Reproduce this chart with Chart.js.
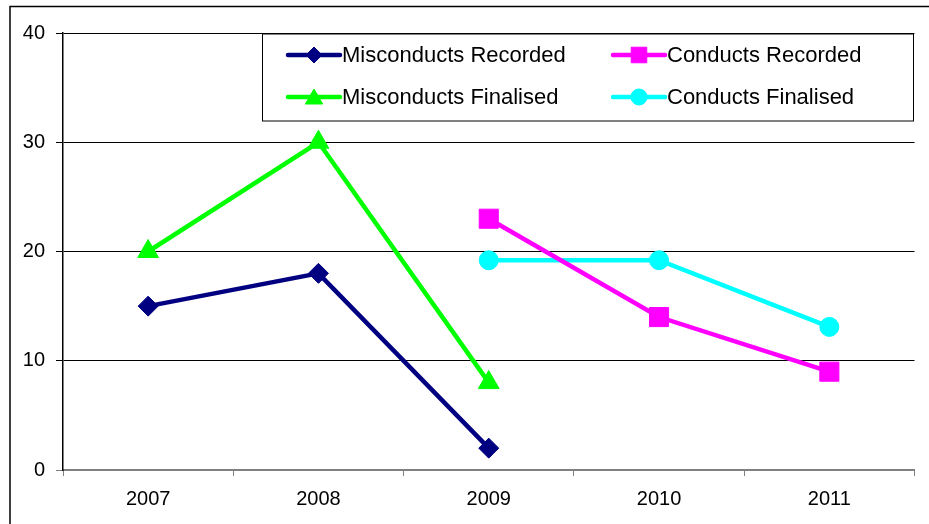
<!DOCTYPE html>
<html>
<head>
<meta charset="utf-8">
<style>
  html, body { margin: 0; padding: 0; background: #fff; }
  #wrap { position: relative; width: 929px; height: 524px; }
</style>
<script src="https://cdn.jsdelivr.net/npm/chart.js@4.4.0/dist/chart.umd.min.js"></script>
</head>
<body>
<div id="wrap"><canvas id="c" width="929" height="524"></canvas></div>
<script>
const categories = ['2007', '2008', '2009', '2010', '2011'];
const misconductsRecorded = [15, 18, 2, null, null];
const misconductsFinalised = [20, 30, 8, null, null];
const conductsRecorded = [null, null, 23, 14, 9];
const conductsFinalised = [null, null, 19.2, 19.2, 13.1];
const yTicks = [0, 10, 20, 30, 40];

const FONT = '"Liberation Sans", Arial, sans-serif';
const legendRadius = { rectRot: 8, triangle: 10, rect: 11, circle: 8 };

const frameAndLegend = {
  id: 'frameAndLegend',
  afterDraw(chart) {
    const ctx = chart.ctx;
    ctx.save();
    // outer chart frame (cropped)
    ctx.strokeStyle = '#000';
    ctx.lineWidth = 1.5;
    ctx.beginPath();
    ctx.moveTo(10, 524);
    ctx.lineTo(10, 6.5);
    ctx.lineTo(929, 6.5);
    ctx.stroke();

    // legend box
    const bx = 262.5, by = 34, bw = 651, bh = 87;
    ctx.fillStyle = '#fff';
    ctx.fillRect(bx, by, bw, bh);
    ctx.lineWidth = 1;
    ctx.strokeStyle = '#000';
    ctx.strokeRect(bx, by, bw, bh);

    const items = [
      { ds: 0, x: 288, y: 55 },
      { ds: 2, x: 613, y: 55 },
      { ds: 1, x: 288, y: 97 },
      { ds: 3, x: 613, y: 97 }
    ];
    items.forEach(it => {
      const ds = chart.data.datasets[it.ds];
      ctx.strokeStyle = ds.borderColor;
      ctx.lineWidth = 4.5;
      ctx.lineCap = 'round';
      ctx.beginPath();
      ctx.moveTo(it.x, it.y);
      ctx.lineTo(it.x + 52, it.y);
      ctx.stroke();
      const r = legendRadius[ds.pointStyle];
      const cy = ds.pointStyle === 'triangle' ? it.y + 2 : it.y;
      ctx.lineWidth = 1;
      ctx.lineCap = 'butt';
      ctx.fillStyle = ds.backgroundColor;
      ctx.strokeStyle = ds.borderColor;
      Chart.helpers.drawPoint(ctx, {
        pointStyle: ds.pointStyle,
        radius: r,
        rotation: 0,
        borderWidth: 1
      }, it.x + 26, cy);
      ctx.fillStyle = '#000';
      ctx.font = '22px ' + FONT;
      ctx.textBaseline = 'middle';
      ctx.textAlign = 'left';
      ctx.fillText(ds.label, it.x + 54, it.y + 1);
    });
    ctx.restore();
  }
};

function mkDs(label, data, color, style, radius) {
  return {
    label, data,
    borderColor: color,
    backgroundColor: color,
    pointBackgroundColor: color,
    pointBorderColor: color,
    borderWidth: 4.5,
    pointStyle: style,
    pointRadius: radius,
    pointHoverRadius: radius,
    pointBorderWidth: 1,
    spanGaps: false,
    tension: 0
  };
}

new Chart(document.getElementById('c'), {
  type: 'line',
  data: {
    labels: categories,
    datasets: [
      mkDs('Misconducts Recorded', misconductsRecorded, '#000080', 'rectRot', 10),
      mkDs('Misconducts Finalised', misconductsFinalised, '#00FF00', 'triangle', 12),
      mkDs('Conducts Recorded', conductsRecorded, '#FF00FF', 'rect', 13.5),
      mkDs('Conducts Finalised', conductsFinalised, '#00FFFF', 'circle', 9.5)
    ]
  },
  options: {
    responsive: false,
    animation: false,
    devicePixelRatio: 1,
    layout: { padding: { left: 0, right: 12, top: 33, bottom: 0 } },
    plugins: { legend: { display: false }, tooltip: { enabled: false } },
    scales: {
      x: {
        offset: true,
        grid: {
          offset: true,
          drawOnChartArea: false,
          drawTicks: true,
          tickLength: 6,
          color: '#808080',
          lineWidth: 1
        },
        border: { display: true, color: '#808080', width: 2 },
        ticks: { color: '#000', font: { family: FONT, size: 20 }, padding: 11 },
        afterFit(s) { s.height = 54; }
      },
      y: {
        min: 0, max: 40,
        afterBuildTicks(s) { s.ticks = yTicks.map(v => ({ value: v })); },
        grid: {
          color: (c) => c.tick && c.tick.value === 0 ? '#808080' : '#000',
          lineWidth: 1,
          tickLength: 7,
          drawTicks: true
        },
        border: { display: true, color: '#000', width: 1.5 },
        ticks: { color: '#000', font: { family: FONT, size: 20 }, padding: 11 },
        afterFit(s) { s.width = 63; }
      }
    }
  },
  plugins: [frameAndLegend]
});
</script>
</body>
</html>
